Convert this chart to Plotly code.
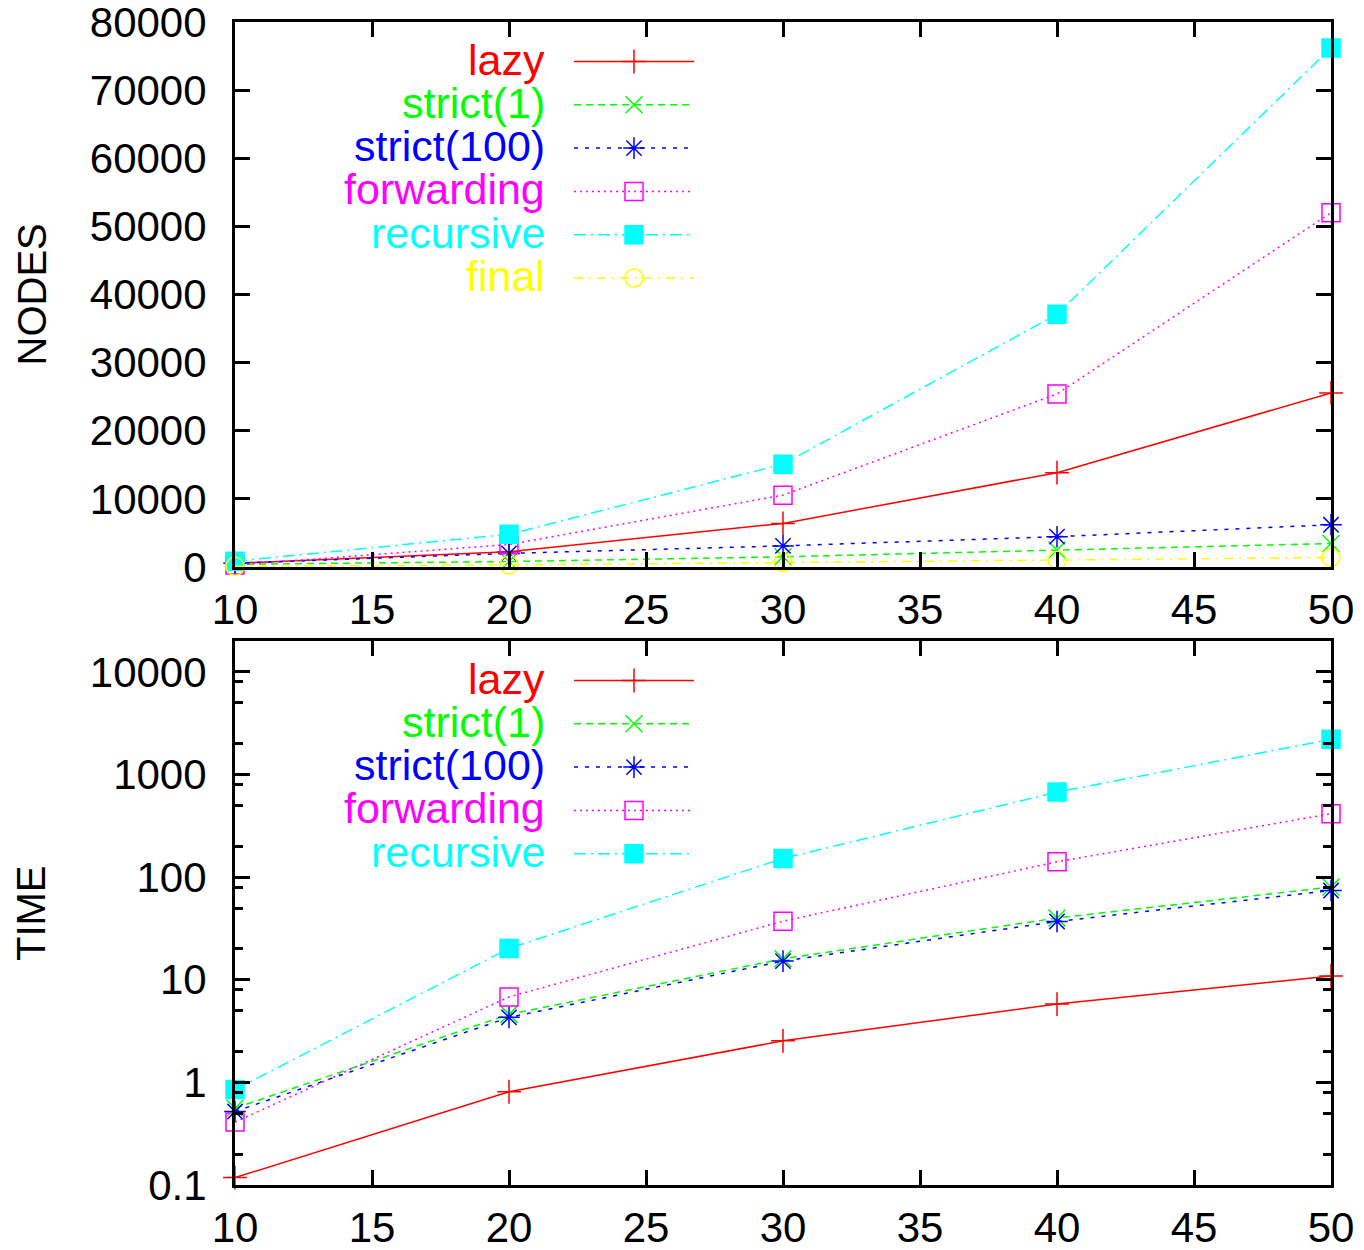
import math
import plotly.graph_objects as go

# ---------------- data ----------------
x_vals = [10, 20, 30, 40, 50]
series_names = ["lazy", "strict(1)", "strict(100)", "forwarding", "recursive", "final"]

nodes_lazy = [550, 2250, 6400, 13850, 25550]
nodes_strict1 = [400, 800, 1500, 2500, 3450]
nodes_strict100 = [550, 2000, 3100, 4450, 6200]
nodes_forwarding = [300, 3300, 10550, 25400, 52000]
nodes_recursive = [850, 4800, 15100, 37100, 76200]
nodes_final = [100, 300, 650, 1000, 1400]

time_lazy = [0.118, 0.81, 2.54, 5.8, 10.9]
time_strict1 = [0.56, 4.6, 16, 40, 80]
time_strict100 = [0.52, 4.3, 15.2, 37, 74]
time_forwarding = [0.41, 6.8, 37.2, 141, 415]
time_recursive = [0.85, 20.2, 152, 674, 2200]

x_ticks = [10, 15, 20, 25, 30, 35, 40, 45, 50]
nodes_ticks = [0, 10000, 20000, 30000, 40000, 50000, 60000, 70000, 80000]
nodes_tick_text = [str(v) for v in nodes_ticks]
time_ticks = [0.1, 1, 10, 100, 1000, 10000]
time_tick_text = ["0.1", "1", "10", "100", "1000", "10000"]
time_minor = [m * 10 ** e for e in range(-1, 5) for m in (2, 5, 8)]

nodes_series = [nodes_lazy, nodes_strict1, nodes_strict100, nodes_forwarding, nodes_recursive, nodes_final]
time_series = [time_lazy, time_strict1, time_strict100, time_forwarding, time_recursive]

# ---------------- styles ----------------
colors = ["#ff0000", "#00ff00", "#0000ff", "#ff00ff", "#00ffff", "#ffff00"]
dashes = ["solid", "7px,5px", "4px,7px", "2px,4px", "12px,5px,2px,5px", "9px,6px,2px,6px"]
symbols = ["cross-thin", "x-thin", "asterisk", "square-open", "square", "circle-open"]
msizes = [17, 17, 18, 18, 18, 18]
FONT = "Liberation Sans, Arial, sans-serif"

W, H = 1364, 1250
ML, MR, MT, MB = 235, 33, 22, 65
plot_w = W - ML - MR
plot_h = H - MT - MB
top_px = (22, 567)
bot_px = (641, 1185)


def ydom(px):
    return [(H - MB - px[1]) / plot_h, (H - MB - px[0]) / plot_h]


top_dom = ydom(top_px)
bot_dom = ydom(bot_px)

fig = go.Figure()


def add_series(xa, ya, yvals, i):
    fig.add_trace(go.Scatter(
        x=x_vals, y=yvals, xaxis=xa, yaxis=ya, mode="lines+markers",
        name=series_names[i], showlegend=False, cliponaxis=False,
        line=dict(color=colors[i], width=1.5, dash=dashes[i]),
        marker=dict(symbol=symbols[i], size=msizes[i], color=colors[i],
                    line=dict(color=colors[i], width=1.5)),
    ))


for i, ys in enumerate(nodes_series):
    add_series("x", "y", ys, i)
for i, ys in enumerate(time_series):
    add_series("x2", "y2", ys, i)

# ---------------- custom gnuplot-style keys ----------------
key_x0 = (574 - ML) / plot_w
key_x1 = (694 - ML) / plot_w
label_x = (547 - ML) / plot_w
row_first, row_step = 39.5, 43.3

annotations = []


def add_key(xa, ya, yref, n):
    for i in range(n):
        r = row_first + row_step * i
        fig.add_trace(go.Scatter(x=[0, 1], y=[r, r], xaxis=xa, yaxis=ya, mode="lines",
                                 showlegend=False, hoverinfo="skip", cliponaxis=False,
                                 line=dict(color=colors[i], width=1.5, dash=dashes[i])))
        fig.add_trace(go.Scatter(x=[0.5], y=[r], xaxis=xa, yaxis=ya, mode="markers",
                                 showlegend=False, hoverinfo="skip", cliponaxis=False,
                                 marker=dict(symbol=symbols[i], size=msizes[i], color=colors[i],
                                             line=dict(color=colors[i], width=1.5))))
        annotations.append(dict(text=series_names[i], xref="paper", x=label_x, xanchor="right",
                                yref=yref, y=r - 2, yanchor="middle", showarrow=False,
                                font=dict(family=FONT, size=43, color=colors[i])))


add_key("x3", "y3", "y3", len(nodes_series))
add_key("x4", "y4", "y4", len(time_series))

annotations.append(dict(text="NODES", textangle=-90, xref="paper", x=(31 - ML) / plot_w,
                        xanchor="center", yref="paper", y=sum(top_dom) / 2, yanchor="middle",
                        showarrow=False, font=dict(family=FONT, size=40, color="black")))
annotations.append(dict(text="TIME", textangle=-90, xref="paper", x=(31 - ML) / plot_w,
                        xanchor="center", yref="paper", y=sum(bot_dom) / 2, yanchor="middle",
                        showarrow=False, font=dict(family=FONT, size=40, color="black")))

tick_font = dict(family=FONT, size=42, color="black")
common = dict(showline=True, linecolor="black", linewidth=3, mirror="ticks", ticks="inside",
              ticklen=15, tickwidth=2.5, tickcolor="black", showgrid=False, zeroline=False,
              tickfont=tick_font, automargin=False, ticklabeloverflow="allow")

hidden = dict(visible=False, showgrid=False, zeroline=False, fixedrange=True, automargin=False)

fig.update_layout(
    template="none",
    width=W, height=H,
    margin=dict(l=ML, r=MR, t=MT, b=MB, pad=0, autoexpand=False),
    paper_bgcolor="white", plot_bgcolor="rgba(0,0,0,0)",
    showlegend=False,
    font=dict(family=FONT, color="black"),
    xaxis=dict(domain=[0, 1], anchor="y", range=[10, 50], tickmode="array", tickvals=x_ticks,
               ticklabelstandoff=4, **common),
    yaxis=dict(domain=top_dom, anchor="x", range=[0, 80000], tickmode="array",
               tickvals=nodes_ticks, ticktext=nodes_tick_text, ticklabelstandoff=17, **common),
    xaxis2=dict(domain=[0, 1], anchor="y2", range=[10, 50], tickmode="array", tickvals=x_ticks,
                ticklabelstandoff=4, **common),
    yaxis2=dict(domain=bot_dom, anchor="x2", type="log", range=[-1, math.log10(20000)],
                tickmode="array", tickvals=time_ticks, ticktext=time_tick_text,
                ticklabelstandoff=17,
                minor=dict(tickmode="array", tickvals=time_minor, ticks="inside", ticklen=8,
                           tickwidth=2.5, tickcolor="black", showgrid=False),
                **common),
    xaxis3=dict(domain=[key_x0, key_x1], anchor="y3", range=[0, 1], **hidden),
    yaxis3=dict(domain=top_dom, anchor="x3", range=[top_px[1] - top_px[0], 0], **hidden),
    xaxis4=dict(domain=[key_x0, key_x1], anchor="y4", range=[0, 1], **hidden),
    yaxis4=dict(domain=bot_dom, anchor="x4", range=[bot_px[1] - bot_px[0], 0], **hidden),
    annotations=annotations,
)

fig.write_html("out.html")
